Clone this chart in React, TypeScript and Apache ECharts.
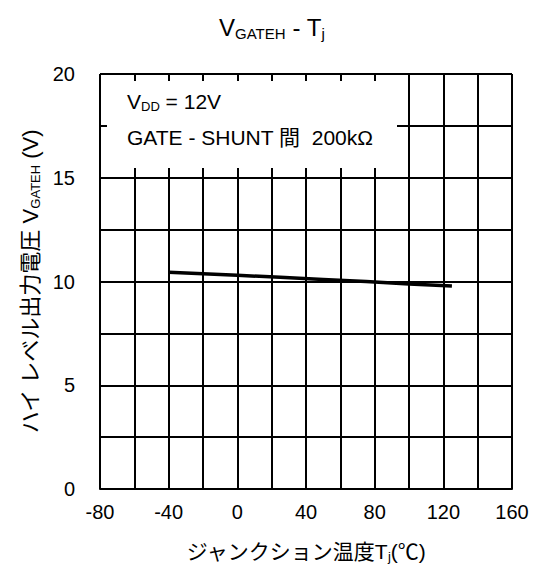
import React, { useEffect, useRef } from "react";
import * as echarts from "echarts";

const temps = [-40, 0, 25, 50, 75, 100, 125];
const vgateh = [10.45, 10.3, 10.2, 10.1, 10.0, 9.88, 9.78];
const xMin = -80, xMax = 160, xStep = 20, xLabelStep = 40;
const yMin = 0, yMax = 20, yStep = 2.5, yLabelStep = 5;

const FONT = "'Liberation Sans', Arial, 'Noto Sans CJK JP', sans-serif";

export default function App() {
  const ref = useRef<HTMLDivElement>(null);
  useEffect(() => {
    const chart = echarts.init(ref.current!, null, { renderer: "svg" });
    const black = { color: "#000", width: 2 };
    chart.setOption({
      animation: false,
      backgroundColor: "#fff",
      textStyle: { fontFamily: FONT, color: "#000" },
      title: {
        text: "{m|V}{s|GATEH}{m| - T}{s|j}",
        left: "center",
        top: 7,
        textStyle: {
          fontWeight: "normal",
          rich: {
            m: { fontSize: 24, color: "#000", fontFamily: FONT, fontWeight: "normal", lineHeight: 30 },
            s: { fontSize: 15, color: "#000", fontFamily: FONT, fontWeight: "normal", padding: [12, 0, 0, 0], lineHeight: 30 },
          },
        },
      },
      grid: { left: 100, right: 32, top: 74, bottom: 79 },
      xAxis: {
        type: "value",
        min: xMin,
        max: xMax,
        interval: xStep,
        name: "{m|ジャンクション温度T}{s|j}{m|(℃)}",
        nameLocation: "middle",
        nameGap: 49,
        nameTextStyle: {
          rich: {
            m: { fontSize: 21, color: "#000", fontFamily: FONT, lineHeight: 26 },
            s: { fontSize: 13, color: "#000", fontFamily: FONT, padding: [10, 0, 0, 0], lineHeight: 26 },
          },
        },
        axisLine: { show: true, lineStyle: black },
        axisTick: { show: false },
        splitLine: { show: true, lineStyle: black },
        axisLabel: {
          fontSize: 20,
          color: "#000",
          fontFamily: FONT,
          margin: 13,
          formatter: (v: number) => ((v - xMin) % xLabelStep === 0 ? String(v) : ""),
        },
      },
      yAxis: {
        type: "value",
        min: yMin,
        max: yMax,
        interval: yStep,
        name: "{m|ハイ レベル出力電圧 V}{s|GATEH}{m| (V)}",
        nameLocation: "middle",
        nameGap: 47,
        nameRotate: 90,
        nameTextStyle: {
          rich: {
            m: { fontSize: 22, color: "#000", fontFamily: FONT, lineHeight: 26 },
            s: { fontSize: 13, color: "#000", fontFamily: FONT, padding: [10, 0, 0, 0], lineHeight: 26 },
          },
        },
        axisLine: { show: true, lineStyle: black },
        axisTick: { show: false },
        splitLine: { show: true, lineStyle: black },
        axisLabel: {
          fontSize: 20,
          color: "#000",
          fontFamily: FONT,
          margin: 25,
          formatter: (v: number) => (v % yLabelStep === 0 ? String(v) : ""),
        },
      },
      graphic: [
        {
          type: "rect",
          z: 50,
          shape: { x: 107, y: 81, width: 290, height: 87 },
          style: { fill: "#fff" },
        },
        {
          type: "text",
          z: 60,
          x: 127,
          y: 101,
          style: {
            text: "{m|V}{s|DD}{m| = 12V}",
            verticalAlign: "middle",
            rich: {
              m: { fontSize: 21, fill: "#000", fontFamily: FONT, lineHeight: 26 },
              s: { fontSize: 13, fill: "#000", fontFamily: FONT, padding: [10, 0, 0, 0], lineHeight: 26 },
            },
          },
        },
        {
          type: "text",
          z: 60,
          x: 127,
          y: 137,
          style: {
            text: "GATE - SHUNT 間  200kΩ",
            verticalAlign: "middle",
            fontSize: 21,
            fill: "#000",
            fontFamily: FONT,
          },
        },
      ],
      series: [
        {
          type: "line",
          data: temps.map((t, i) => [t, vgateh[i]]),
          symbol: "none",
          lineStyle: { color: "#000", width: 3.5 },
          z: 10,
        },
      ],
    });
    return () => chart.dispose();
  }, []);
  return <div ref={ref} style={{ position: "absolute", left: 0, top: 0, width: 544, height: 568 }} />;
}
